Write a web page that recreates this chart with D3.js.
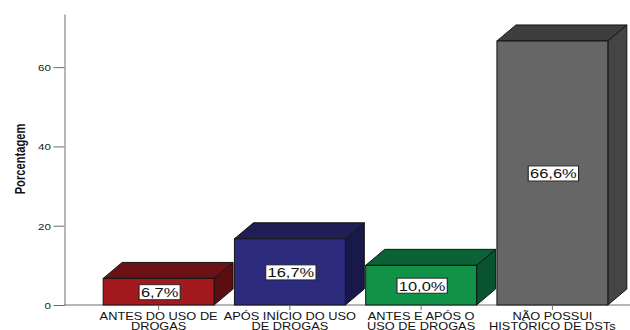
<!DOCTYPE html>
<html>
<head>
<meta charset="utf-8">
<script src="https://cdn.jsdelivr.net/npm/d3@7"></script>
<style>
  html, body { margin: 0; padding: 0; background: #fff; }
  svg { display: block; }
</style>
</head>
<body>
<svg id="chart" width="630" height="330"></svg>
<script>
// Histórico de DSTs em relação ao uso de drogas (percentual)
const categories = [
  ["ANTES DO USO DE", "DROGAS"],
  ["APÓS INÍCIO DO USO", "DE DROGAS"],
  ["ANTES E APÓS O", "USO DE DROGAS"],
  ["NÃO POSSUI", "HISTÓRICO DE DSTs"]
];
const values = [6.7, 16.7, 10.0, 66.6];
const valueLabels = ["6,7%", "16,7%", "10,0%", "66,6%"];
const yTicks = [0, 20, 40, 60];
const yTitle = "Porcentagem";

// face colours: front, top, side
const faceColors = [
  ["#a3191e", "#6a1216", "#5a0e12"],
  ["#2c2b7d", "#1f1e57", "#19184a"],
  ["#129248", "#0b6236", "#085430"],
  ["#666666", "#3e3e3e", "#454545"]
];

const svg = d3.select("#chart");
const wide = 1.22;           // horizontal stretch of all text
const depthX = 19, depthY = 16;

const y = d3.scaleLinear().domain([0, 73.4]).range([305, 14]);
const x = d3.scaleBand()
  .domain(d3.range(categories.length))
  .range([93, 618])
  .paddingInner(0.155)
  .paddingOuter(0.0775);

// axes
const axisColor = "#6e6e6e";
svg.append("line")
  .attr("x1", 64).attr("x2", 630)
  .attr("y1", y(0)).attr("y2", y(0))
  .attr("stroke", axisColor).attr("stroke-width", 1);

const yAxis = svg.append("g")
  .attr("transform", "translate(64.5,0)")
  .call(d3.axisLeft(y).tickValues(yTicks).tickSize(11).tickPadding(3).tickSizeOuter(0));
yAxis.select(".domain").attr("stroke", axisColor);
yAxis.selectAll(".tick line").attr("stroke", axisColor);
yAxis.selectAll(".tick text").remove();
yAxis.selectAll(".tick").append("g")
  .attr("transform", `translate(-13.5,0) scale(${wide},1)`)
  .append("text")
  .attr("text-anchor", "end")
  .attr("dy", "0.35em")
  .attr("font-family", "Liberation Sans, Arial, sans-serif")
  .attr("font-size", 9.5)
  .attr("fill", "#1a1a1a")
  .text(d => d);

// y title (condensed bold)
svg.append("g")
  .attr("transform", `translate(25,159) rotate(-90) scale(0.72,1)`)
  .append("text")
  .attr("text-anchor", "middle")
  .attr("font-family", "Liberation Sans, Arial, sans-serif")
  .attr("font-weight", "bold")
  .attr("font-size", 15.5)
  .attr("fill", "#111")
  .text(yTitle);

// 3D bars
const bars = svg.append("g").selectAll("g")
  .data(values)
  .join("g");

bars.each(function(v, i) {
  const g = d3.select(this);
  const x0 = x(i), x1 = x(i) + x.bandwidth();
  const yt = y(v), yb = y(0);
  const [front, top, side] = faceColors[i];
  // side face
  g.append("path")
    .attr("d", `M${x1},${yb} L${x1 + depthX},${yb - depthY} L${x1 + depthX},${yt - depthY} L${x1},${yt} Z`)
    .attr("fill", side).attr("stroke", "#151515").attr("stroke-width", 1).attr("stroke-linejoin", "round");
  // top face
  g.append("path")
    .attr("d", `M${x0},${yt} L${x0 + depthX},${yt - depthY} L${x1 + depthX},${yt - depthY} L${x1},${yt} Z`)
    .attr("fill", top).attr("stroke", "#151515").attr("stroke-width", 1).attr("stroke-linejoin", "round");
  // front face
  g.append("rect")
    .attr("x", x0).attr("y", yt)
    .attr("width", x.bandwidth()).attr("height", yb - yt)
    .attr("fill", front).attr("stroke", "#151515").attr("stroke-width", 1);
});

// x tick marks
svg.append("g").selectAll("line")
  .data(values)
  .join("line")
  .attr("x1", (d, i) => x(i) + x.bandwidth() / 2)
  .attr("x2", (d, i) => x(i) + x.bandwidth() / 2)
  .attr("y1", y(0)).attr("y2", y(0) + 5)
  .attr("stroke", axisColor);

// category labels (two lines)
const catG = svg.append("g").selectAll("g")
  .data(categories)
  .join("g")
  .attr("transform", (d, i) => `translate(${x(i) + x.bandwidth() / 2},0) scale(${wide},1)`);
catG.each(function(lines) {
  const g = d3.select(this);
  lines.forEach((t, k) => {
    g.append("text")
      .attr("y", 320.5 + k * 9.5)
      .attr("text-anchor", "middle")
      .attr("font-family", "Liberation Sans, Arial, sans-serif")
      .attr("font-size", 10.5)
      .attr("fill", "#111")
      .text(t);
  });
});

// value labels in white boxes, centred on the front face
const lab = svg.append("g").selectAll("g")
  .data(values)
  .join("g")
  .attr("transform", (d, i) => `translate(${x(i) + x.bandwidth() / 2 + 1},${(y(d) + y(0)) / 2 + 0.5}) scale(${wide},1)`);
lab.each(function(v, i) {
  const g = d3.select(this);
  const txt = g.append("text")
    .attr("text-anchor", "middle")
    .attr("dy", "0.36em")
    .attr("font-family", "Liberation Sans, Arial, sans-serif")
    .attr("font-size", 13.5)
    .attr("fill", "#111")
    .text(valueLabels[i]);
  const bb = txt.node().getBBox();
  g.insert("rect", "text")
    .attr("x", bb.x - 1.5).attr("y", -7.5)
    .attr("width", bb.width + 3).attr("height", 15)
    .attr("fill", "#fff").attr("stroke", "#222").attr("stroke-width", 0.9);
});
</script>
</body>
</html>
